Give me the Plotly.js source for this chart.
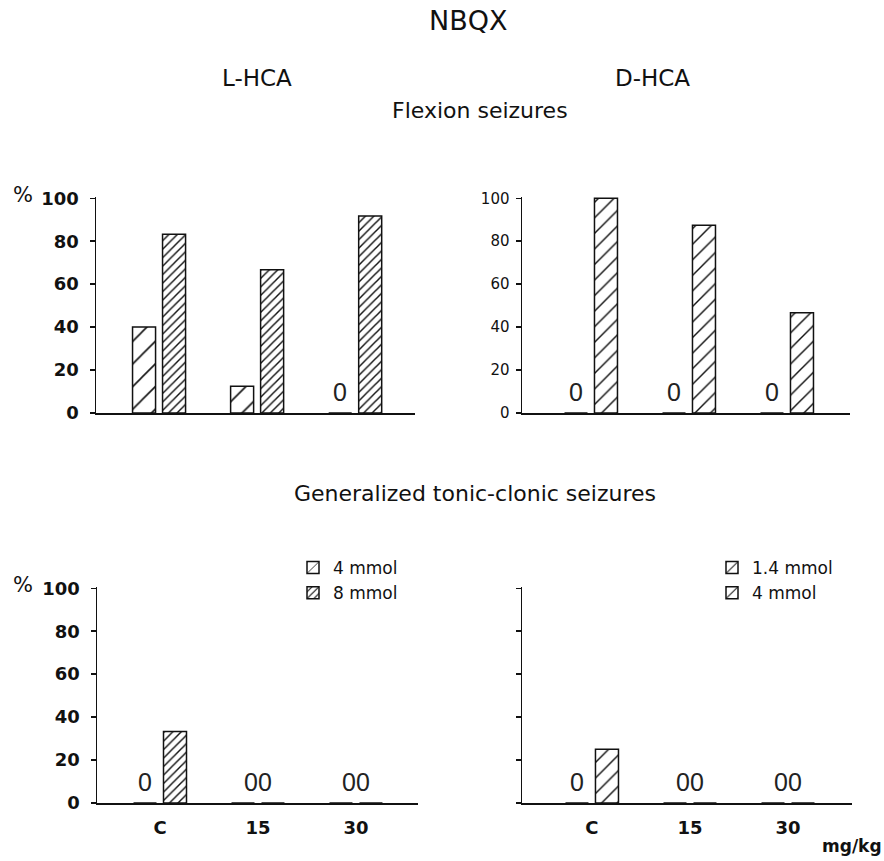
<!DOCTYPE html>
<html>
<head>
<meta charset="utf-8">
<script src="https://cdn.plot.ly/plotly-3.0.1.min.js"></script>
<style>html,body{margin:0;padding:0;background:#fff;}#chart{width:884px;height:861px;}</style>
</head>
<body>
<div id="chart"></div>
<script>
// ---- data ----
const categories = ['C', '15', '30'];
const yTicks = [0, 20, 40, 60, 80, 100];
// L-HCA, flexion seizures
const lhcaFlex4mmol = [40, 12.5, 0];
const lhcaFlex8mmol = [83.3, 66.7, 91.7];
// D-HCA, flexion seizures
const dhcaFlex14mmol = [0, 0, 0];
const dhcaFlex4mmol = [100, 87.5, 46.7];
// L-HCA, generalized tonic-clonic seizures
const lhcaGtc4mmol = [0, 0, 0];
const lhcaGtc8mmol = [33.3, 0, 0];
// D-HCA, generalized tonic-clonic seizures
const dhcaGtc14mmol = [0, 0, 0];
const dhcaGtc4mmol = [25, 0, 0];

const FONT = 'DejaVu Sans';
const line = {color: '#111', width: 1.5};
function pat(size, sol) { return {shape: '/', size: size, solidity: sol, fgcolor: '#111', bgcolor: '#fff', fillmode: 'replace'}; }
const patL4 = pat(16, 0.1), patL8 = pat(6, 0.24), patD14 = pat(13, 0.12), patD4 = pat(11, 0.13);

function bar(y, name, xa, ya, p, legend, show) {
  return {type: 'bar', x: categories, y: y, name: name, xaxis: xa, yaxis: ya,
    marker: {color: '#fff', line: line, pattern: p}, showlegend: show, legend: legend,
    hoverinfo: 'skip'};
}

const traces = [
  bar(lhcaFlex4mmol, '4 mmol', 'x', 'y', patL4, 'legend', false),
  bar(lhcaFlex8mmol, '8 mmol', 'x', 'y', patL8, 'legend', false),
  bar(dhcaFlex14mmol, '1.4 mmol', 'x2', 'y2', patD14, 'legend2', false),
  bar(dhcaFlex4mmol, '4 mmol', 'x2', 'y2', patD4, 'legend2', false),
  bar(lhcaGtc4mmol, '4 mmol', 'x3', 'y3', patL4, 'legend', true),
  bar(lhcaGtc8mmol, '8 mmol', 'x3', 'y3', patL8, 'legend', true),
  bar(dhcaGtc14mmol, '1.4 mmol', 'x4', 'y4', patD14, 'legend2', true),
  bar(dhcaGtc4mmol, '4 mmol', 'x4', 'y4', patD4, 'legend2', true)
];

// zero labels
const OFF = 0.153;
const annotations = [];
function zeros(a, b, xa, ya) {
  for (let i = 0; i < categories.length; i++) {
    let txt = null, x = i;
    if (a[i] === 0 && b[i] === 0) { txt = '00'; x = i; }
    else if (a[i] === 0) { txt = '0'; x = i - OFF; }
    else if (b[i] === 0) { txt = '0'; x = i + OFF; }
    if (txt) annotations.push({xref: xa, yref: ya, x: x, y: 0, text: txt, showarrow: false,
      yanchor: 'middle', xanchor: 'center', yshift: 21,
      font: {family: 'Liberation Sans', size: 25, color: '#222'}});
  }
}
zeros(lhcaFlex4mmol, lhcaFlex8mmol, 'x', 'y');
zeros(dhcaFlex14mmol, dhcaFlex4mmol, 'x2', 'y2');
zeros(lhcaGtc4mmol, lhcaGtc8mmol, 'x3', 'y3');
zeros(dhcaGtc14mmol, dhcaGtc4mmol, 'x4', 'y4');

function txt(x, y, t, size, bold, extra) {
  return Object.assign({xref: 'paper', yref: 'paper', x: x, y: y, text: bold ? '<b>' + t + '</b>' : t,
    showarrow: false, xanchor: 'center', yanchor: 'middle',
    font: {family: FONT, size: size, color: '#111'}}, extra || {});
}
annotations.push(txt(468/884, 1 - 20/861, 'NBQX', 27));
annotations.push(txt(257/884, 1 - 78/861, 'L-HCA', 23));
annotations.push(txt(652/884, 1 - 78/861, 'D-HCA', 23));
annotations.push(txt(480/884, 1 - 110/861, 'Flexion seizures', 22));
annotations.push(txt(475/884, 1 - 494/861, 'Generalized tonic-clonic seizures', 22));
annotations.push(txt(23/884, 1 - 195/861, '%', 21));
annotations.push(txt(23/884, 1 - 585/861, '%', 21));
annotations.push(txt(852/884, 1 - 846/861, 'mg/kg', 17, true));

function yax(domain, showLabels, bold) {
  return {domain: domain, range: [0, 100.6], tickvals: yTicks, ticks: 'outside', ticklen: 5, tickwidth: 1.5,
    tickcolor: '#111', showline: true, linecolor: '#111', linewidth: 1.5, showgrid: false, zeroline: false,
    showticklabels: showLabels, ticklabelstandoff: bold ? 7 : 3,
    tickfont: bold ? {family: FONT, size: 18, color: '#111', weight: 'bold'} : {family: FONT, size: 15, color: '#111'},
    fixedrange: true};
}
function xax(domain, range, anchor, showLabels) {
  return {domain: domain, range: range, type: 'category', anchor: anchor, showline: true, linecolor: '#111',
    linewidth: 2, ticks: '', showgrid: false, zeroline: false, showticklabels: showLabels,
    ticklabelstandoff: 7,
    tickfont: {family: FONT, size: 18, color: '#111', weight: 'bold'}, fixedrange: true};
}

const topDom = [1 - 413/861, 1 - 197/861];
const botDom = [1 - 803/861, 1 - 587/861];

const layout = {
  width: 884, height: 861,
  margin: {l: 0, r: 0, t: 0, b: 0},
  paper_bgcolor: '#fff', plot_bgcolor: 'rgba(0,0,0,0)',
  barmode: 'group', bargap: 0.388, bargroupgap: 0.233,
  font: {family: FONT, color: '#111'},
  xaxis: xax([96/884, 415/884], [-0.643, 2.61], 'y', false),
  yaxis: Object.assign(yax(topDom, true, true), {anchor: 'x'}),
  xaxis2: xax([522/884, 850/884], [-0.704, 2.643], 'y2', false),
  yaxis2: Object.assign(yax(topDom, true, false), {anchor: 'x2'}),
  xaxis3: xax([97/884, 418/884], [-0.643, 2.633], 'y3', true),
  yaxis3: Object.assign(yax(botDom, true, true), {anchor: 'x3'}),
  xaxis4: xax([522/884, 852/884], [-0.714, 2.653], 'y4', true),
  yaxis4: Object.assign(yax(botDom, false, false), {anchor: 'x4'}),
  legend: {x: 293/884, y: 1 - 550/861, xanchor: 'left', yanchor: 'top', bgcolor: 'rgba(0,0,0,0)',
    font: {family: FONT, size: 17, color: '#111'}, itemwidth: 30, traceorder: 'normal', tracegroupgap: 0},
  legend2: {x: 712/884, y: 1 - 550/861, xanchor: 'left', yanchor: 'top', bgcolor: 'rgba(0,0,0,0)',
    font: {family: FONT, size: 17, color: '#111'}, itemwidth: 30, traceorder: 'normal', tracegroupgap: 0},
  annotations: annotations
};

Plotly.newPlot('chart', traces, layout, {staticPlot: true, displayModeBar: false});
</script>
</body>
</html>
